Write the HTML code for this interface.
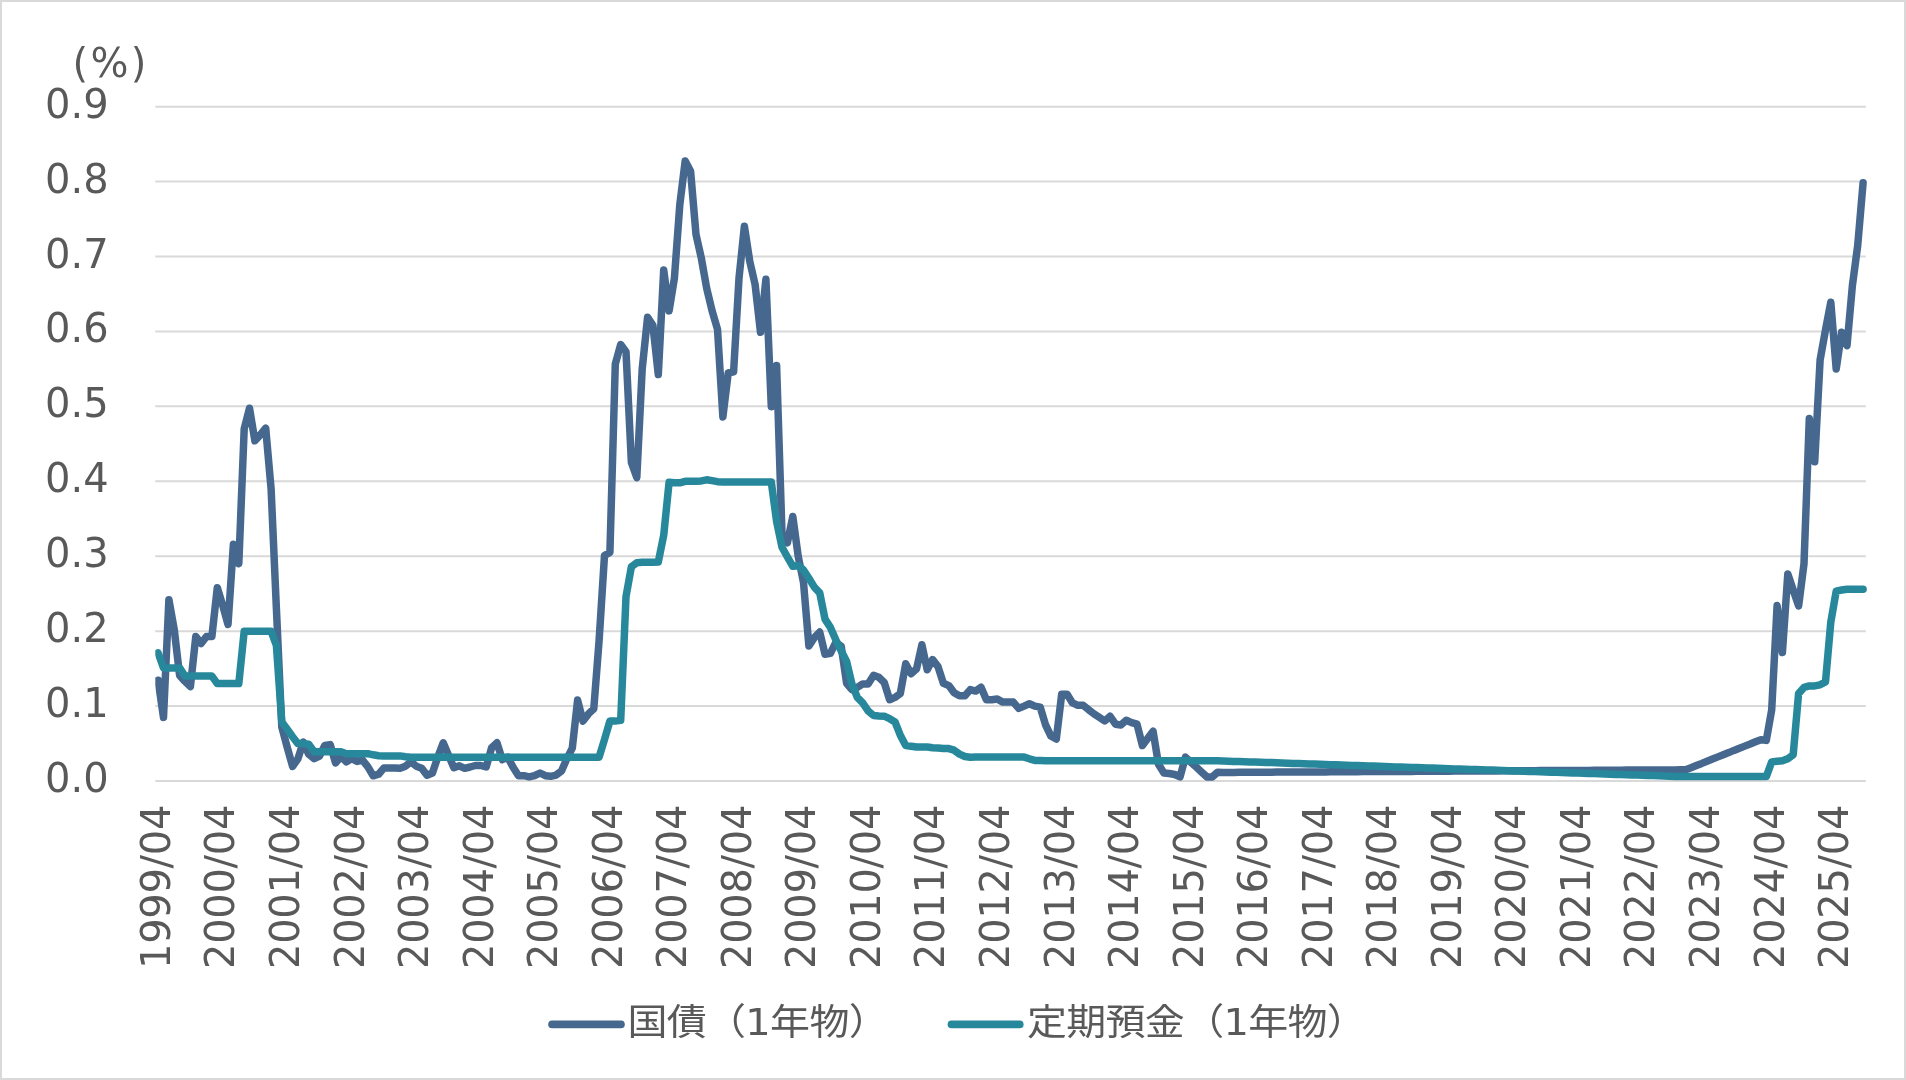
<!DOCTYPE html>
<html lang="ja">
<head>
<meta charset="utf-8">
<title>国債（1年物）と定期預金（1年物）の金利推移</title>
<style>
html,body{margin:0;padding:0;background:#fff;}
body{width:1906px;height:1080px;overflow:hidden;position:relative;}
#chart{position:absolute;left:0;top:0;width:1906px;height:1080px;box-sizing:border-box;border:2px solid #d9d9d9;background:#fff;}
svg{position:absolute;left:0;top:0;display:block;will-change:transform;}
text{font-family:"DejaVu Sans", "Liberation Sans", "Noto Sans CJK JP", sans-serif;font-size:40px;fill:#595959;}
text.jp{font-family:"DejaVu Sans", "Liberation Sans", "Noto Sans CJK JP", sans-serif;font-size:40px;letter-spacing:-0.70px;}
text.pct{letter-spacing:2.40px;}
text.xl{letter-spacing:-0.3px;}
</style>
</head>
<body>
<div id="chart"></div>
<svg width="1906" height="1080" viewBox="0 0 1906 1080">
<g stroke="#d9d9d9" stroke-width="2" fill="none">
<line x1="155.3" y1="781.05" x2="1865.8" y2="781.05"/>
<line x1="155.3" y1="706.12" x2="1865.8" y2="706.12"/>
<line x1="155.3" y1="631.18" x2="1865.8" y2="631.18"/>
<line x1="155.3" y1="556.24" x2="1865.8" y2="556.24"/>
<line x1="155.3" y1="481.31" x2="1865.8" y2="481.31"/>
<line x1="155.3" y1="406.37" x2="1865.8" y2="406.37"/>
<line x1="155.3" y1="331.44" x2="1865.8" y2="331.44"/>
<line x1="155.3" y1="256.50" x2="1865.8" y2="256.50"/>
<line x1="155.3" y1="181.57" x2="1865.8" y2="181.57"/>
<line x1="155.3" y1="106.63" x2="1865.8" y2="106.63"/>
</g>
<g text-anchor="end">
<text x="108.7" y="792.0">0.0</text>
<text x="108.7" y="717.1">0.1</text>
<text x="108.7" y="642.2">0.2</text>
<text x="108.7" y="567.2">0.3</text>
<text x="108.7" y="492.3">0.4</text>
<text x="108.7" y="417.4">0.5</text>
<text x="108.7" y="342.4">0.6</text>
<text x="108.7" y="267.5">0.7</text>
<text x="108.7" y="192.6">0.8</text>
<text x="108.7" y="117.6">0.9</text>
</g>
<text class="pct" x="72.4" y="77.3">(%)</text>
<text class="xl" transform="translate(169.9,969.0) rotate(-90)">1999/04</text>
<text class="xl" transform="translate(234.4,969.0) rotate(-90)">2000/04</text>
<text class="xl" transform="translate(299.0,969.0) rotate(-90)">2001/04</text>
<text class="xl" transform="translate(363.5,969.0) rotate(-90)">2002/04</text>
<text class="xl" transform="translate(428.1,969.0) rotate(-90)">2003/04</text>
<text class="xl" transform="translate(492.6,969.0) rotate(-90)">2004/04</text>
<text class="xl" transform="translate(557.2,969.0) rotate(-90)">2005/04</text>
<text class="xl" transform="translate(621.7,969.0) rotate(-90)">2006/04</text>
<text class="xl" transform="translate(686.2,969.0) rotate(-90)">2007/04</text>
<text class="xl" transform="translate(750.8,969.0) rotate(-90)">2008/04</text>
<text class="xl" transform="translate(815.3,969.0) rotate(-90)">2009/04</text>
<text class="xl" transform="translate(879.9,969.0) rotate(-90)">2010/04</text>
<text class="xl" transform="translate(944.4,969.0) rotate(-90)">2011/04</text>
<text class="xl" transform="translate(1009.0,969.0) rotate(-90)">2012/04</text>
<text class="xl" transform="translate(1073.5,969.0) rotate(-90)">2013/04</text>
<text class="xl" transform="translate(1138.0,969.0) rotate(-90)">2014/04</text>
<text class="xl" transform="translate(1202.6,969.0) rotate(-90)">2015/04</text>
<text class="xl" transform="translate(1267.1,969.0) rotate(-90)">2016/04</text>
<text class="xl" transform="translate(1331.7,969.0) rotate(-90)">2017/04</text>
<text class="xl" transform="translate(1396.2,969.0) rotate(-90)">2018/04</text>
<text class="xl" transform="translate(1460.8,969.0) rotate(-90)">2019/04</text>
<text class="xl" transform="translate(1525.3,969.0) rotate(-90)">2020/04</text>
<text class="xl" transform="translate(1589.9,969.0) rotate(-90)">2021/04</text>
<text class="xl" transform="translate(1654.4,969.0) rotate(-90)">2022/04</text>
<text class="xl" transform="translate(1718.9,969.0) rotate(-90)">2023/04</text>
<text class="xl" transform="translate(1783.5,969.0) rotate(-90)">2024/04</text>
<text class="xl" transform="translate(1848.0,969.0) rotate(-90)">2025/04</text>
<defs><clipPath id="plotclip"><rect x="155.3" y="0" width="1750.7" height="1080"/></clipPath></defs>
<g clip-path="url(#plotclip)">
<polyline fill="none" stroke="#46688f" stroke-width="7.50" stroke-linejoin="round" stroke-linecap="round" points="158.1,680.3 163.5,717.4 168.9,599.7 174.2,629.3 179.6,675.4 185.0,681.4 190.4,686.6 195.8,636.4 201.1,643.5 206.5,636.4 211.9,636.4 217.3,587.7 222.6,605.0 228.0,624.4 233.4,544.3 238.8,563.7 244.2,428.9 249.5,408.2 254.9,440.8 260.3,434.9 265.7,428.1 271.1,488.8 276.4,608.7 281.8,727.1 287.2,747.3 292.6,766.4 297.9,758.8 303.3,742.1 308.7,754.1 314.1,758.6 319.5,756.0 324.8,745.5 330.2,744.6 335.6,763.0 341.0,756.3 346.4,761.9 351.7,758.6 357.1,761.4 362.5,760.1 367.9,766.8 373.2,775.8 378.6,774.2 384.0,767.9 389.4,767.9 394.8,767.9 400.1,768.2 405.5,766.2 410.9,761.8 416.3,766.2 421.7,768.2 427.0,775.2 432.4,773.0 437.8,757.1 443.2,742.8 448.5,755.3 453.9,767.7 459.3,765.8 464.7,768.3 470.1,767.0 475.4,765.5 480.8,765.5 486.2,767.0 491.6,747.7 497.0,742.8 502.3,759.7 507.7,757.2 513.1,767.3 518.5,775.7 523.8,775.7 529.2,776.9 534.6,775.7 540.0,773.0 545.4,775.7 550.7,776.3 556.1,775.1 561.5,771.0 566.9,758.6 572.3,748.1 577.6,700.1 583.0,721.1 588.4,713.9 593.8,708.7 599.1,640.5 604.5,555.5 609.9,552.5 615.3,363.9 620.7,344.6 626.0,351.7 631.4,462.6 636.8,477.6 642.2,368.9 647.6,317.2 652.9,325.4 658.3,374.5 663.7,270.0 669.1,310.9 674.4,278.2 679.8,204.8 685.2,161.0 690.6,171.2 696.0,234.5 701.3,258.0 706.7,288.4 712.1,310.9 717.5,329.2 722.9,416.9 728.2,373.0 733.6,371.9 739.0,278.2 744.4,226.2 749.7,261.0 755.1,284.5 760.5,332.3 765.9,279.3 771.3,406.7 776.6,365.5 782.0,533.8 787.4,542.8 792.8,516.5 798.2,556.2 803.5,582.5 808.9,645.9 814.3,637.6 819.7,632.1 825.0,654.2 830.4,653.4 835.8,642.4 841.2,646.2 846.6,683.3 851.9,689.6 857.3,687.4 862.7,683.9 868.1,683.9 873.5,675.4 878.8,677.3 884.2,682.4 889.6,699.7 895.0,697.4 900.3,693.5 905.7,663.8 911.1,673.7 916.5,669.0 921.9,644.7 927.2,669.8 932.6,659.6 938.0,666.6 943.4,683.3 948.8,685.6 954.1,692.7 959.5,695.8 964.9,695.8 970.3,689.6 975.6,691.1 981.0,687.2 986.4,699.7 991.8,699.7 997.2,699.0 1002.5,702.1 1007.9,702.1 1013.3,702.1 1018.7,708.4 1024.1,706.1 1029.4,703.7 1034.8,706.1 1040.2,707.2 1045.6,725.0 1050.9,736.0 1056.3,739.1 1061.7,694.3 1067.1,694.3 1072.5,702.9 1077.8,705.3 1083.2,705.3 1088.6,709.7 1094.0,713.9 1099.4,717.4 1104.7,721.0 1110.1,716.3 1115.5,724.2 1120.9,725.0 1126.2,720.2 1131.6,722.6 1137.0,724.2 1142.4,745.5 1147.8,738.3 1153.1,731.3 1158.5,764.3 1163.9,773.0 1169.3,773.5 1174.7,774.5 1180.0,776.9 1185.4,757.2 1190.8,762.1 1196.2,767.0 1201.5,772.0 1206.9,776.9 1212.3,776.9 1217.7,772.2 1223.1,772.4 1228.4,772.4 1233.8,772.4 1239.2,772.3 1244.6,772.3 1250.0,772.3 1255.3,772.2 1260.7,772.2 1266.1,772.2 1271.5,772.2 1276.8,772.1 1282.2,772.1 1287.6,772.1 1293.0,772.0 1298.4,772.0 1303.7,772.0 1309.1,771.9 1314.5,771.9 1319.9,771.9 1325.3,771.9 1330.6,771.8 1336.0,771.8 1341.4,771.8 1346.8,771.7 1352.1,771.7 1357.5,771.7 1362.9,771.6 1368.3,771.6 1373.7,771.6 1379.0,771.5 1384.4,771.5 1389.8,771.5 1395.2,771.5 1400.6,771.4 1405.9,771.4 1411.3,771.4 1416.7,771.3 1422.1,771.3 1427.4,771.3 1432.8,771.2 1438.2,771.2 1443.6,771.2 1449.0,771.2 1454.3,771.1 1459.7,771.1 1465.1,771.1 1470.5,771.0 1475.9,771.0 1481.2,771.0 1486.6,770.9 1492.0,770.9 1497.4,770.9 1502.7,770.8 1508.1,770.8 1513.5,770.8 1518.9,770.8 1524.3,770.7 1529.6,770.7 1535.0,770.7 1540.4,770.6 1545.8,770.6 1551.2,770.6 1556.5,770.5 1561.9,770.5 1567.3,770.5 1572.7,770.5 1578.1,770.4 1583.4,770.4 1588.8,770.4 1594.2,770.3 1599.6,770.3 1604.9,770.3 1610.3,770.2 1615.7,770.2 1621.1,770.2 1626.5,770.1 1631.8,770.1 1637.2,770.1 1642.6,770.1 1648.0,770.0 1653.4,770.0 1658.7,770.0 1664.1,769.9 1669.5,769.9 1674.9,769.9 1680.2,769.8 1685.6,769.8 1691.0,767.7 1696.4,765.5 1701.8,763.4 1707.1,761.2 1712.5,759.1 1717.9,756.9 1723.3,754.7 1728.7,752.6 1734.0,750.4 1739.4,748.3 1744.8,746.1 1750.2,744.0 1755.5,741.8 1760.9,739.7 1766.3,740.4 1771.7,709.9 1777.1,605.6 1782.4,652.5 1787.8,573.9 1793.2,590.0 1798.6,605.9 1804.0,563.7 1809.3,418.5 1814.7,461.8 1820.1,360.0 1825.5,329.9 1830.8,302.2 1836.2,368.9 1841.6,332.2 1847.0,345.7 1852.4,285.5 1857.7,245.5 1863.1,182.7"/>
<polyline fill="none" stroke="#28889b" stroke-width="7.50" stroke-linejoin="round" stroke-linecap="round" points="158.1,652.9 163.5,667.9 168.9,667.9 174.2,667.9 179.6,667.9 185.0,676.1 190.4,676.1 195.8,676.1 201.1,676.1 206.5,676.1 211.9,676.1 217.3,683.6 222.6,683.6 228.0,683.6 233.4,683.6 238.8,683.6 244.2,631.2 249.5,631.2 254.9,631.2 260.3,631.2 265.7,631.2 271.1,631.2 276.4,645.4 281.8,721.9 287.2,729.3 292.6,736.8 297.9,743.6 303.3,743.6 308.7,744.3 314.1,751.8 319.5,751.8 324.8,751.8 330.2,751.8 335.6,751.8 341.0,751.8 346.4,753.7 351.7,753.7 357.1,753.7 362.5,753.7 367.9,753.7 373.2,754.8 378.6,755.7 384.0,755.9 389.4,755.9 394.8,755.9 400.1,755.9 405.5,756.7 410.9,757.2 416.3,757.2 421.7,757.2 427.0,757.2 432.4,757.2 437.8,757.2 443.2,757.2 448.5,757.2 453.9,757.2 459.3,757.2 464.7,757.2 470.1,757.2 475.4,757.2 480.8,757.2 486.2,757.2 491.6,757.2 497.0,757.2 502.3,757.2 507.7,757.2 513.1,757.2 518.5,757.2 523.8,757.2 529.2,757.2 534.6,757.2 540.0,757.2 545.4,757.2 550.7,757.2 556.1,757.2 561.5,757.2 566.9,757.2 572.3,757.2 577.6,757.2 583.0,757.2 588.4,757.2 593.8,757.2 599.1,757.2 604.5,739.5 609.9,721.1 615.3,721.1 620.7,720.4 626.0,596.7 631.4,566.7 636.8,562.7 642.2,562.2 647.6,562.2 652.9,562.2 658.3,561.9 663.7,535.3 669.1,482.2 674.4,482.8 679.8,482.8 685.2,481.3 690.6,481.3 696.0,481.3 701.3,480.9 706.7,479.8 712.1,480.6 717.5,481.7 722.9,482.1 728.2,482.1 733.6,482.1 739.0,482.1 744.4,482.1 749.7,482.1 755.1,482.1 760.5,482.1 765.9,482.1 771.3,482.1 776.6,521.4 782.0,547.3 787.4,557.0 792.8,566.3 798.2,565.7 803.5,570.0 808.9,578.3 814.3,587.1 819.7,592.8 825.0,619.1 830.4,627.4 835.8,639.8 841.2,650.8 846.6,661.4 851.9,683.9 857.3,697.3 862.7,702.9 868.1,710.8 873.5,715.5 878.8,716.0 884.2,716.2 889.6,718.7 895.0,721.9 900.3,735.2 905.7,745.5 911.1,746.2 916.5,747.0 921.9,747.0 927.2,747.0 932.6,747.8 938.0,748.1 943.4,748.6 948.8,748.6 954.1,750.2 959.5,754.1 964.9,756.5 970.3,757.2 975.6,757.1 981.0,757.1 986.4,757.1 991.8,757.1 997.2,757.1 1002.5,757.1 1007.9,757.1 1013.3,757.1 1018.7,757.1 1024.1,757.1 1029.4,758.8 1034.8,760.4 1040.2,760.4 1045.6,760.7 1050.9,760.8 1056.3,760.8 1061.7,760.8 1067.1,760.8 1072.5,760.8 1077.8,760.8 1083.2,760.8 1088.6,760.8 1094.0,760.8 1099.4,760.8 1104.7,760.8 1110.1,760.8 1115.5,760.8 1120.9,760.8 1126.2,760.8 1131.6,760.8 1137.0,760.8 1142.4,760.8 1147.8,760.8 1153.1,760.8 1158.5,760.8 1163.9,760.8 1169.3,760.8 1174.7,760.8 1180.0,760.8 1185.4,760.8 1190.8,760.8 1196.2,760.8 1201.5,760.8 1206.9,760.8 1212.3,760.8 1217.7,760.8 1223.1,761.0 1228.4,761.2 1233.8,761.4 1239.2,761.5 1244.6,761.7 1250.0,761.9 1255.3,762.1 1260.7,762.3 1266.1,762.5 1271.5,762.6 1276.8,762.8 1282.2,763.0 1287.6,763.2 1293.0,763.4 1298.4,763.6 1303.7,763.7 1309.1,763.9 1314.5,764.1 1319.9,764.3 1325.3,764.5 1330.6,764.7 1336.0,764.8 1341.4,765.0 1346.8,765.2 1352.1,765.4 1357.5,765.6 1362.9,765.8 1368.3,765.9 1373.7,766.1 1379.0,766.3 1384.4,766.5 1389.8,766.7 1395.2,766.9 1400.6,767.0 1405.9,767.2 1411.3,767.4 1416.7,767.6 1422.1,767.8 1427.4,768.0 1432.8,768.1 1438.2,768.3 1443.6,768.5 1449.0,768.7 1454.3,768.9 1459.7,769.1 1465.1,769.2 1470.5,769.4 1475.9,769.6 1481.2,769.8 1486.6,770.0 1492.0,770.1 1497.4,770.3 1502.7,770.5 1508.1,770.7 1513.5,770.9 1518.9,771.1 1524.3,771.2 1529.6,771.4 1535.0,771.6 1540.4,771.8 1545.8,772.0 1551.2,772.2 1556.5,772.3 1561.9,772.5 1567.3,772.7 1572.7,772.9 1578.1,773.1 1583.4,773.3 1588.8,773.4 1594.2,773.6 1599.6,773.8 1604.9,774.0 1610.3,774.2 1615.7,774.4 1621.1,774.5 1626.5,774.7 1631.8,774.9 1637.2,775.1 1642.6,775.3 1648.0,775.5 1653.4,775.6 1658.7,775.8 1664.1,776.0 1669.5,776.2 1674.9,776.4 1680.2,776.6 1685.6,776.6 1691.0,776.6 1696.4,776.6 1701.8,776.6 1707.1,776.6 1712.5,776.6 1717.9,776.6 1723.3,776.6 1728.7,776.6 1734.0,776.6 1739.4,776.6 1744.8,776.6 1750.2,776.6 1755.5,776.6 1760.9,776.6 1766.3,776.6 1771.7,761.9 1777.1,761.2 1782.4,760.8 1787.8,758.7 1793.2,754.7 1798.6,693.5 1804.0,687.4 1809.3,685.9 1814.7,685.9 1820.1,684.8 1825.5,681.9 1830.8,622.2 1836.2,591.2 1841.6,590.0 1847.0,589.2 1852.4,589.2 1857.7,589.2 1863.1,589.2"/>
</g>
<line x1="552" y1="1024.4" x2="621" y2="1024.4" stroke="#46688f" stroke-width="7.6" stroke-linecap="round"/>
<text class="jp" transform="translate(627.5,1034.6) scale(1,0.920)">国債（1年物）</text>
<line x1="951.4" y1="1024.4" x2="1019.8" y2="1024.4" stroke="#28889b" stroke-width="7.6" stroke-linecap="round"/>
<text class="jp" transform="translate(1027.0,1034.6) scale(1,0.920)">定期預金（1年物）</text>
</svg>
</body>
</html>
